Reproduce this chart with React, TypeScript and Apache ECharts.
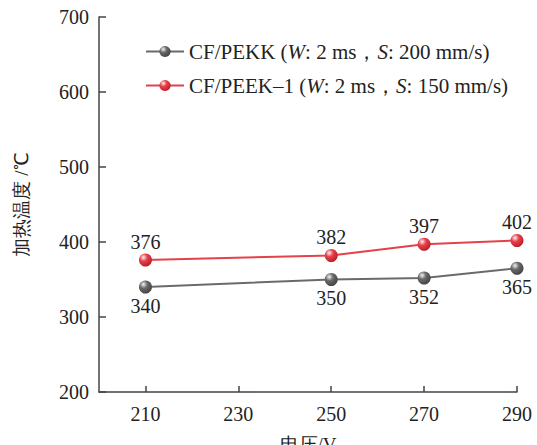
import React, { useEffect, useRef } from "react";
import * as echarts from "echarts";

const voltages = [210, 250, 270, 290];
const pekkValues = [340, 350, 352, 365];
const peekValues = [376, 382, 397, 402];
const xTicks = [210, 230, 250, 270, 290];
const seriesNames = ["CF/PEKK", "CF/PEEK–1"];

const FONT = "serif";

function sphere(base: string, dark: string) {
  return new echarts.graphic.RadialGradient(0.35, 0.3, 0.75, [
    { offset: 0, color: "#f4f4f4" },
    { offset: 0.4, color: base },
    { offset: 1, color: dark },
  ]);
}

export default function App() {
  const ref = useRef<HTMLDivElement>(null);
  useEffect(() => {
    if (!ref.current) return;
    const chart = echarts.init(ref.current, undefined, { renderer: "svg" });
    const mk = (i: number) => (i === 0 ? pekkValues : peekValues);
    chart.setOption({
      animation: false,
      textStyle: { fontFamily: FONT },
      grid: { left: 99, right: 20, top: 17, bottom: 53, outerBoundsMode: "none", containLabel: false },
      legend: {
        left: 140,
        top: 36,
        orient: "vertical",
        itemWidth: 38,
        itemHeight: 14,
        itemGap: 13,
        data: seriesNames,
        textStyle: {
          fontFamily: FONT,
          fontSize: 21,
          color: "#222",
          rich: {
            n: { fontFamily: FONT, fontSize: 21, color: "#222" },
            i: { fontFamily: FONT, fontSize: 21, color: "#222", fontStyle: "italic" },
          },
        },
        formatter: (name: string) =>
          name === seriesNames[0]
            ? "{n|CF/PEKK (}{i|W}{n|: 2 ms，}{i|S}{n|: 200 mm/s)}"
            : "{n|CF/PEEK–1 (}{i|W}{n|: 2 ms，}{i|S}{n|: 150 mm/s)}",
      },
      xAxis: {
        type: "value",
        min: 200,
        max: 290,
        name: "电压/V",
        nameLocation: "middle",
        nameGap: 43,
        nameTextStyle: { fontFamily: FONT, fontSize: 19, color: "#222" },
        splitLine: { show: false },
        axisLine: { lineStyle: { color: "#444", width: 1.5 } },
        axisTick: { inside: true, length: 6, customValues: xTicks, lineStyle: { color: "#444", width: 1.5 } },
        axisLabel: { customValues: xTicks, fontFamily: FONT, fontSize: 20, color: "#222", margin: 12 },
      },
      yAxis: {
        type: "value",
        min: 200,
        max: 700,
        interval: 100,
        name: "加热温度 /℃",
        nameLocation: "middle",
        nameGap: 68,
        nameTextStyle: { fontFamily: FONT, fontSize: 19, color: "#222" },
        splitLine: { show: false },
        axisLine: { show: true, lineStyle: { color: "#444", width: 1.5 } },
        axisTick: { inside: true, length: 7, lineStyle: { color: "#444", width: 1.5 } },
        axisLabel: { fontFamily: FONT, fontSize: 20, color: "#222", margin: 10 },
      },
      series: seriesNames.map((name, i) => ({
        name,
        type: "line",
        data: voltages.map((v, k) => [v, mk(i)[k]]),
        symbol: "circle",
        symbolSize: 13,
        lineStyle: { color: i === 0 ? "#6a6a6a" : "#e4414a", width: 2 },
        itemStyle: {
          color: i === 0 ? sphere("#6a6a6a", "#404040") : sphere("#e8404a", "#b81c26"),
          borderWidth: 0,
        },
        label: {
          show: true,
          position: i === 0 ? "bottom" : "top",
          distance: 2,
          fontFamily: FONT,
          fontSize: 20,
          color: "#222",
        },
      })),
    });
    return () => chart.dispose();
  }, []);
  return <div ref={ref} style={{ width: 537, height: 445, position: "absolute", left: 0, top: 0 }} />;
}
